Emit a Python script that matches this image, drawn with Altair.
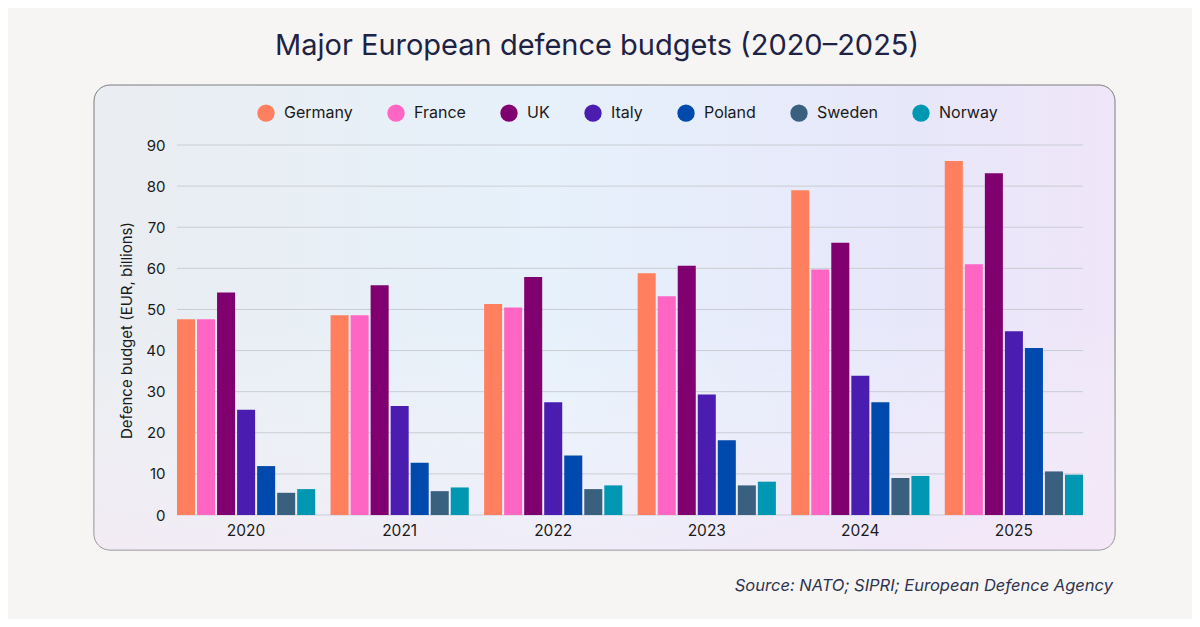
import altair as alt
import pandas as pd

years = ["2020", "2021", "2022", "2023", "2024", "2025"]
countries = ["Germany", "France", "UK", "Italy", "Poland", "Sweden", "Norway"]
colors = ["#FF7F5E", "#FF66C4", "#800070", "#4A1DB0", "#004AAD", "#3A6080", "#0097B2"]

germany = [47.6, 48.6, 51.3, 58.8, 79.0, 86.1]
france = [47.6, 48.6, 50.5, 53.2, 59.7, 61.0]
uk = [54.1, 55.9, 57.9, 60.6, 66.2, 83.1]
italy = [25.6, 26.5, 27.4, 29.3, 33.9, 44.7]
poland = [11.9, 12.7, 14.5, 18.2, 27.4, 40.6]
sweden = [5.4, 5.8, 6.3, 7.2, 9.0, 10.6]
norway = [6.3, 6.7, 7.2, 8.1, 9.5, 9.8]

y_ticks = [0, 10, 20, 30, 40, 50, 60, 70, 80, 90]

title_text = "Major European defence budgets (2020\u20132025)"
source_text = "Source: NATO; SIPRI; European Defence Agency"
y_title = "Defence budget (EUR, billions)"

series = [germany, france, uk, italy, poland, sweden, norway]
rows = []
for c, vals in zip(countries, series):
    for yr, v in zip(years, vals):
        rows.append({"year": yr, "country": c, "value": v})
df = pd.DataFrame(rows)
grid_df = pd.DataFrame({"value": y_ticks})
one = pd.DataFrame({"t": [title_text], "s": [source_text]})

FONT = "Inter"

panel = alt.Chart(one).mark_rect(
    cornerRadius=16,
    stroke="#7d7d80",
    strokeWidth=1,
    fill=alt.LinearGradient(
        gradient="linear",
        x1=0, x2=1, y1=0, y2=0,
        stops=[
            alt.GradientStop(color="#EAEDF1", offset=0),
            alt.GradientStop(color="#E6F1FB", offset=0.45),
            alt.GradientStop(color="#E7E7FA", offset=0.8),
            alt.GradientStop(color="#EFE6F8", offset=1),
        ],
    ),
).encode(
    x=alt.value(-83), x2=alt.value(938), y=alt.value(-60), y2=alt.value(405)
)

overlay = alt.Chart(one).mark_rect(
    cornerRadius=16,
    fill=alt.LinearGradient(
        gradient="linear",
        x1=0, x2=0, y1=0, y2=1,
        stops=[
            alt.GradientStop(color="rgba(255,255,255,0)", offset=0.5),
            alt.GradientStop(color="rgba(252,232,246,0.45)", offset=1),
        ],
    ),
).encode(
    x=alt.value(-83), x2=alt.value(938), y=alt.value(-60), y2=alt.value(405)
)

y_axis = alt.Axis(values=y_ticks, grid=False, ticks=False, domain=False,
                  title=y_title, labelPadding=12, labelFontSize=15,
                  labelColor="#1a1a1a", labelFont=FONT, titleFont=FONT,
                  titleFontSize=15, titleFontWeight="normal", titleColor="#1a1a1a",
                  titlePadding=11, zindex=2)
y_scale = alt.Scale(domain=[0, 90], nice=False)

grid = alt.Chart(grid_df).mark_rule(color="#C9CDD3", strokeWidth=1).encode(
    y=alt.Y("value:Q", axis=y_axis, scale=y_scale, title=y_title)
)

bars = alt.Chart(df).mark_bar().encode(
    x=alt.X(
        "year:N",
        sort=years,
        title=None,
        scale=alt.Scale(paddingInner=0.1, paddingOuter=0),
        axis=alt.Axis(labelAngle=0, ticks=False, domain=False, labelPadding=8,
                      labelFontSize=15.5, labelColor="#1a1a1a", labelFont=FONT,
                      zindex=2),
    ),
    xOffset=alt.XOffset("country:N", sort=countries,
                        scale=alt.Scale(paddingInner=0.1, paddingOuter=0)),
    y=alt.Y("value:Q", scale=y_scale, axis=y_axis, title=y_title),
    color=alt.Color(
        "country:N",
        sort=countries,
        scale=alt.Scale(domain=countries, range=colors),
        legend=alt.Legend(
            title=None, orient="none", direction="horizontal",
            legendX=80, legendY=-41, symbolType="circle", symbolSize=300,
            symbolStrokeWidth=0, labelFontSize=16, labelFont=FONT,
            labelColor="#1a1a1a", labelOffset=9, columnPadding=34, padding=0,
            zindex=2,
        ),
    ),
)

title = alt.Chart(one).mark_text(
    font=FONT, fontSize=29, color="#1E2345", align="center", baseline="middle"
).encode(text="t:N", x=alt.value(420), y=alt.value(-99))

source = alt.Chart(one).mark_text(
    font=FONT, fontSize=16.5, fontStyle="italic", color="#2E3350",
    align="right", baseline="middle"
).encode(text="s:N", x=alt.value(936), y=alt.value(441))

chart = alt.layer(panel, overlay, grid, bars, title, source).properties(
    width=906,
    height=370,
    autosize="none",
    padding={"left": 169, "top": 137, "right": 109, "bottom": 104},
    background="#F6F5F4",
).configure_view(stroke=None)

chart.save("out.html", embed_options={"renderer": "svg", "actions": False})
